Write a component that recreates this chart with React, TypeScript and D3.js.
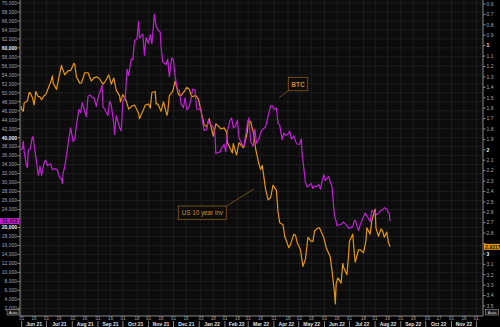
import React from "react";
import * as d3 from "d3";

const btcSeries: [string, number][] = [
  ["2021-05-31",37300],["2021-06-02",37600],["2021-06-03",39200],["2021-06-04",36900],["2021-06-07",33600],["2021-06-08",33400],["2021-06-09",37300],["2021-06-11",37300],["2021-06-14",40200],["2021-06-15",40100],["2021-06-16",38300],["2021-06-18",35800],["2021-06-21",31600],["2021-06-22",32500],["2021-06-23",33700],["2021-06-25",31600],["2021-06-28",34400],["2021-06-30",35000],["2021-07-02",33800],["2021-07-06",34200],["2021-07-08",32900],["2021-07-12",33100],["2021-07-14",32800],["2021-07-16",31400],["2021-07-19",30800],["2021-07-20",29800],["2021-07-21",32100],["2021-07-23",33600],["2021-07-26",37300],["2021-07-28",40000],["2021-07-30",42200],["2021-08-02",39200],["2021-08-04",39700],["2021-08-06",42800],["2021-08-09",46300],["2021-08-11",45600],["2021-08-13",47800],["2021-08-16",45900],["2021-08-18",44700],["2021-08-20",49300],["2021-08-23",49500],["2021-08-25",48900],["2021-08-27",49000],["2021-08-30",47000],["2021-09-01",48800],["2021-09-03",50000],["2021-09-06",51700],["2021-09-07",46800],["2021-09-09",46400],["2021-09-13",44900],["2021-09-15",48100],["2021-09-17",47300],["2021-09-20",43000],["2021-09-21",40700],["2021-09-23",44900],["2021-09-27",42200],["2021-09-29",41500],["2021-10-01",48100],["2021-10-04",49100],["2021-10-06",55300],["2021-10-08",53900],["2021-10-11",57500],["2021-10-13",57400],["2021-10-15",61600],["2021-10-18",62000],["2021-10-20",65900],["2021-10-21",62200],["2021-10-25",63100],["2021-10-27",58400],["2021-10-29",62300],["2021-11-01",61000],["2021-11-03",62900],["2021-11-05",61000],["2021-11-08",67500],["2021-11-10",64900],["2021-11-12",64100],["2021-11-15",63500],["2021-11-16",60300],["2021-11-18",56900],["2021-11-22",56300],["2021-11-24",57500],["2021-11-26",53600],["2021-11-29",57800],["2021-12-01",57200],["2021-12-03",53600],["2021-12-06",50600],["2021-12-08",50600],["2021-12-10",47600],["2021-12-13",46700],["2021-12-15",48900],["2021-12-17",46200],["2021-12-20",46900],["2021-12-22",48600],["2021-12-24",50800],["2021-12-27",50600],["2021-12-29",46400],["2021-12-31",46300],["2022-01-03",46500],["2022-01-05",43500],["2022-01-07",41600],["2022-01-10",41800],["2022-01-12",43900],["2022-01-14",43100],["2022-01-18",42300],["2022-01-20",40700],["2022-01-21",36500],["2022-01-24",36700],["2022-01-26",36800],["2022-01-28",37700],["2022-01-31",38500],["2022-02-02",36900],["2022-02-04",41500],["2022-02-07",43800],["2022-02-09",44400],["2022-02-11",42200],["2022-02-14",42600],["2022-02-16",43900],["2022-02-18",40000],["2022-02-22",38300],["2022-02-24",38300],["2022-02-28",43200],["2022-03-02",44400],["2022-03-04",39100],["2022-03-07",38100],["2022-03-09",41900],["2022-03-11",38800],["2022-03-14",39700],["2022-03-16",41100],["2022-03-18",41800],["2022-03-22",42400],["2022-03-24",44000],["2022-03-28",47100],["2022-03-30",47100],["2022-04-01",46300],["2022-04-04",46600],["2022-04-06",43200],["2022-04-08",42800],["2022-04-11",39500],["2022-04-13",41100],["2022-04-15",40500],["2022-04-18",40800],["2022-04-20",41500],["2022-04-22",39700],["2022-04-25",40400],["2022-04-27",39200],["2022-04-29",38600],["2022-05-02",38500],["2022-05-04",39700],["2022-05-05",36500],["2022-05-09",30100],["2022-05-11",29000],["2022-05-13",29300],["2022-05-16",29800],["2022-05-18",28700],["2022-05-20",29200],["2022-05-23",29100],["2022-05-25",29600],["2022-05-27",28600],["2022-05-31",31800],["2022-06-02",30500],["2022-06-06",31400],["2022-06-08",30200],["2022-06-10",29100],["2022-06-13",22500],["2022-06-14",22200],["2022-06-16",20400],["2022-06-17",20500],["2022-06-21",20700],["2022-06-23",21100],["2022-06-24",21200],["2022-06-27",20700],["2022-06-29",20100],["2022-06-30",19800],["2022-07-05",20200],["2022-07-07",21600],["2022-07-08",21600],["2022-07-12",19300],["2022-07-14",20600],["2022-07-18",22400],["2022-07-20",23200],["2022-07-22",22600],["2022-07-26",21300],["2022-07-28",23800],["2022-08-01",23300],["2022-08-03",22800],["2022-08-05",23200],["2022-08-08",23800],["2022-08-10",23900],["2022-08-12",24400],["2022-08-15",24100],["2022-08-17",23300],["2022-08-18",23200],["2022-08-19",21413]
];

const yieldSeries: [string, number][] = [
  ["2021-05-31",1.58],["2021-06-01",1.61],["2021-06-03",1.63],["2021-06-04",1.55],["2021-06-08",1.53],["2021-06-10",1.45],["2021-06-11",1.45],["2021-06-14",1.50],["2021-06-16",1.57],["2021-06-17",1.51],["2021-06-18",1.44],["2021-06-21",1.49],["2021-06-23",1.49],["2021-06-25",1.52],["2021-06-28",1.48],["2021-06-30",1.47],["2021-07-02",1.43],["2021-07-06",1.35],["2021-07-08",1.29],["2021-07-09",1.36],["2021-07-13",1.42],["2021-07-16",1.30],["2021-07-19",1.19],["2021-07-20",1.22],["2021-07-23",1.28],["2021-07-27",1.24],["2021-07-30",1.24],["2021-08-03",1.17],["2021-08-04",1.18],["2021-08-06",1.30],["2021-08-10",1.36],["2021-08-12",1.36],["2021-08-16",1.26],["2021-08-18",1.26],["2021-08-20",1.26],["2021-08-24",1.34],["2021-08-27",1.31],["2021-08-31",1.30],["2021-09-03",1.32],["2021-09-07",1.37],["2021-09-10",1.34],["2021-09-14",1.28],["2021-09-17",1.37],["2021-09-20",1.31],["2021-09-23",1.43],["2021-09-27",1.48],["2021-09-28",1.54],["2021-10-01",1.47],["2021-10-05",1.53],["2021-10-08",1.61],["2021-10-12",1.58],["2021-10-15",1.57],["2021-10-20",1.65],["2021-10-21",1.70],["2021-10-25",1.63],["2021-10-28",1.57],["2021-11-01",1.56],["2021-11-03",1.60],["2021-11-05",1.45],["2021-11-09",1.44],["2021-11-10",1.56],["2021-11-12",1.56],["2021-11-16",1.63],["2021-11-19",1.54],["2021-11-23",1.67],["2021-11-24",1.64],["2021-11-26",1.48],["2021-11-30",1.44],["2021-12-03",1.34],["2021-12-07",1.47],["2021-12-10",1.48],["2021-12-14",1.44],["2021-12-17",1.40],["2021-12-20",1.42],["2021-12-23",1.49],["2021-12-28",1.48],["2021-12-31",1.51],["2022-01-04",1.66],["2022-01-07",1.76],["2022-01-10",1.78],["2022-01-13",1.70],["2022-01-18",1.87],["2022-01-21",1.75],["2022-01-25",1.78],["2022-01-27",1.80],["2022-01-31",1.79],["2022-02-03",1.83],["2022-02-04",1.93],["2022-02-10",2.03],["2022-02-11",1.94],["2022-02-15",2.05],["2022-02-18",1.93],["2022-02-23",1.98],["2022-02-24",1.97],["2022-02-28",1.83],["2022-03-01",1.72],["2022-03-04",1.73],["2022-03-08",1.86],["2022-03-10",1.99],["2022-03-14",2.14],["2022-03-16",2.19],["2022-03-18",2.15],["2022-03-22",2.38],["2022-03-25",2.48],["2022-03-28",2.46],["2022-03-31",2.34],["2022-04-04",2.39],["2022-04-06",2.60],["2022-04-08",2.70],["2022-04-12",2.72],["2022-04-14",2.83],["2022-04-19",2.94],["2022-04-21",2.91],["2022-04-25",2.81],["2022-04-27",2.82],["2022-04-29",2.89],["2022-05-03",2.96],["2022-05-06",3.12],["2022-05-09",3.05],["2022-05-11",2.91],["2022-05-12",2.84],["2022-05-16",2.88],["2022-05-18",2.88],["2022-05-20",2.78],["2022-05-24",2.75],["2022-05-26",2.75],["2022-05-31",2.84],["2022-06-03",2.94],["2022-06-08",3.03],["2022-06-10",3.16],["2022-06-13",3.37],["2022-06-14",3.48],["2022-06-15",3.29],["2022-06-17",3.23],["2022-06-21",3.28],["2022-06-23",3.09],["2022-06-24",3.13],["2022-06-28",3.20],["2022-06-30",3.01],["2022-07-01",2.88],["2022-07-05",2.81],["2022-07-07",3.00],["2022-07-08",3.08],["2022-07-12",2.96],["2022-07-14",2.96],["2022-07-18",2.99],["2022-07-21",2.87],["2022-07-22",2.75],["2022-07-26",2.81],["2022-07-28",2.68],["2022-08-01",2.57],["2022-08-02",2.75],["2022-08-05",2.83],["2022-08-08",2.76],["2022-08-10",2.78],["2022-08-12",2.84],["2022-08-15",2.79],["2022-08-17",2.89],["2022-08-19",2.9317]
];

const leftTicks: number[] = d3.range(2000, 70001, 2000);
const rightTicks: number[] = d3.range(6, 36).map((v) => v / 10);
const xTickDates: string[] = [
  "2021-06-01","2021-06-16","2021-07-01","2021-07-16","2021-08-02","2021-08-16","2021-09-01","2021-09-16","2021-10-01","2021-10-18","2021-11-01","2021-11-16","2021-12-01","2021-12-16","2022-01-03","2022-01-18","2022-02-01","2022-02-16","2022-03-01","2022-03-16","2022-04-01","2022-04-18","2022-05-02","2022-05-16","2022-06-01","2022-06-16","2022-07-01","2022-07-18","2022-08-01","2022-08-16","2022-09-01","2022-09-16","2022-10-03","2022-10-17","2022-11-01","2022-11-16","2022-12-01"
];
const monthStarts: string[] = [
  "2021-06-01","2021-07-01","2021-08-01","2021-09-01","2021-10-01","2021-11-01","2021-12-01","2022-01-01","2022-02-01","2022-03-01","2022-04-01","2022-05-01","2022-06-01","2022-07-01","2022-08-01","2022-09-01","2022-10-01","2022-11-01","2022-12-01"
];
const monthLabels: string[] = ["Jun 21","Jul 21","Aug 21","Sep 21","Oct 21","Nov 21","Dec 21","Jan 22","Feb 22","Mar 22","Apr 22","May 22","Jun 22","Jul 22","Aug 22","Sep 22","Oct 22","Nov 22"];

const parse = d3.timeParse("%Y-%m-%d");

const L = 20, R = 483, T = 0, B = 316;
const FONT = "'Liberation Sans', Arial, sans-serif";
const BTC_COLOR = "#c21fd6";
const YLD_COLOR = "#e8960c";

export default function App() {
  const x = d3.scaleTime().domain([new Date(2021, 4, 30), new Date(2022, 11, 9)]).range([L, R]);
  const yL = d3.scaleLinear().domain([0, 70000]).range([317.3, 3]);
  const yR = d3.scaleLinear().domain([0.6, 3.5]).range([4, 306]);

  const btc = btcSeries.map(([d, v]) => ({ d: parse(d)!, v }));
  const yld = yieldSeries.map(([d, v]) => ({ d: parse(d)!, v }));

  const btcLine = d3.line<{ d: Date; v: number }>().x((p) => x(p.d)).y((p) => yL(p.v))(btc) || "";
  const yldLine = d3.line<{ d: Date; v: number }>().x((p) => x(p.d)).y((p) => yR(p.v))(yld) || "";

  const fmt = d3.format(",");
  const lastBtc = btc[btc.length - 1];
  const lastYld = yld[yld.length - 1];
  const lastBtcY = yL(lastBtc.v);
  const lastYldY = yR(lastYld.v);
  const isInt = (t: number) => Math.abs(t - Math.round(t)) < 1e-6;

  return (
    <svg width={500} height={327} style={{ position: "absolute", left: 0, top: 0, background: "#000" }} fontFamily={FONT}>
      <rect x={0} y={0} width={500} height={327} fill="#000" />
      <rect x={L} y={T} width={R - L} height={B - T} fill="#0c0c0c" />
      {leftTicks.map((t) => (
        <line key={"hg" + t} x1={L} x2={R} y1={yL(t)} y2={yL(t)} stroke="#1d1d1d" strokeWidth={1} />
      ))}
      {xTickDates.map((t) => (
        <line key={"vg" + t} x1={x(parse(t)!)} x2={x(parse(t)!)} y1={T} y2={B} stroke="#1d1d1d" strokeWidth={1} />
      ))}
      <path d={yldLine} fill="none" stroke={YLD_COLOR} strokeWidth={1.2} strokeLinejoin="round" />
      <path d={btcLine} fill="none" stroke={BTC_COLOR} strokeWidth={1.2} strokeLinejoin="round" />

      {/* left axis */}
      <line x1={L} x2={L} y1={T} y2={B} stroke="#888" strokeWidth={1} />
      {leftTicks.map((t) => (
        <g key={"lt" + t}>
          <line x1={L - 2.5} x2={L} y1={yL(t)} y2={yL(t)} stroke="#888" />
          {Math.abs(yL(t) - lastBtcY) > 5 && (
            <text x={L - 3} y={yL(t) + 1.8} fontSize={5} textAnchor="end" fill={t % 20000 === 0 ? "#f0f0f0" : "#aaa"} fontWeight={t % 20000 === 0 ? "bold" : "normal"}>
              {fmt(t)}
            </text>
          )}
        </g>
      ))}
      {/* right axis */}
      <line x1={R} x2={R} y1={T} y2={B} stroke="#888" strokeWidth={1} />
      {rightTicks.map((t) => (
        <g key={"rt" + t}>
          <line x1={R} x2={R + 2.5} y1={yR(t)} y2={yR(t)} stroke="#888" />
          {Math.abs(yR(t) - lastYldY) > 5 && (
            <text x={R + 3.5} y={yR(t) + 1.8} fontSize={5} textAnchor="start" fill={isInt(t) ? "#f0f0f0" : "#aaa"} fontWeight={isInt(t) ? "bold" : "normal"}>
              {isInt(t) ? d3.format("d")(t) : d3.format(".1f")(t)}
            </text>
          )}
        </g>
      ))}
      {/* bottom axis */}
      <line x1={L} x2={R} y1={B} y2={B} stroke="#888" strokeWidth={1} />
      {xTickDates.map((t) => (
        <text key={"xt" + t} x={x(parse(t)!)} y={319.5} fontSize={4.5} textAnchor="middle" fill="#aaa">
          {t.slice(8)}
        </text>
      ))}
      {monthStarts.map((m) => (
        <line key={"ms" + m} x1={x(parse(m)!)} x2={x(parse(m)!)} y1={321} y2={327} stroke="#aaa" strokeWidth={0.8} />
      ))}
      {monthLabels.map((lab, i) => {
        const a = x(parse(monthStarts[i])!);
        const b = x(parse(monthStarts[i + 1])!);
        return (
          <text key={"ml" + lab} x={(a + b) / 2} y={325.5} fontSize={5} textAnchor="middle" fill="#e0e0e0" fontWeight="bold">
            {lab}
          </text>
        );
      })}

      {/* last value labels */}
      <rect x={0} y={lastBtcY - 3} width={19} height={6} fill={BTC_COLOR} />
      <text x={17.5} y={lastBtcY + 1.8} fontSize={5} textAnchor="end" fill="#111" fontWeight="bold">
        {fmt(lastBtc.v)}
      </text>
      <rect x={484} y={lastYldY - 3} width={16} height={6} fill={YLD_COLOR} />
      <text x={485} y={lastYldY + 1.8} fontSize={5} textAnchor="start" fill="#111" fontWeight="bold">
        {d3.format(".4f")(lastYld.v)}
      </text>

      {/* Auto boxes */}
      <rect x={7} y={309.5} width={12} height={5.5} fill="#1a1a1a" stroke="#999" strokeWidth={0.6} />
      <text x={13} y={313.7} fontSize={4.2} textAnchor="middle" fill="#ddd">Auto</text>
      <rect x={485.5} y={309.5} width={13} height={5.5} fill="#1a1a1a" stroke="#999" strokeWidth={0.6} />
      <text x={492} y={313.7} fontSize={4.2} textAnchor="middle" fill="#ddd">Auto</text>

      {/* annotations */}
      <line x1={279.3} y1={97.5} x2={288.3} y2={90.7} stroke="#8a5a18" strokeWidth={0.8} />
      <rect x={288.3} y={77.3} width={19.4} height={13.4} fill="#0c0c0c" stroke="#8a5a18" strokeWidth={0.8} />
      <text x={298} y={86.5} fontSize={6.5} textAnchor="middle" fill="#d08b25" fontWeight="bold">BTC</text>

      <line x1={226.5} y1={206} x2={254} y2={189} stroke="#8a5a18" strokeWidth={0.8} />
      <rect x={178.3} y={206} width={48} height={13.3} fill="#0c0c0c" stroke="#8a5a18" strokeWidth={0.8} />
      <text x={202.3} y={215} fontSize={6.3} textAnchor="middle" fill="#d08b25">US 10 year inv</text>
    </svg>
  );
}
